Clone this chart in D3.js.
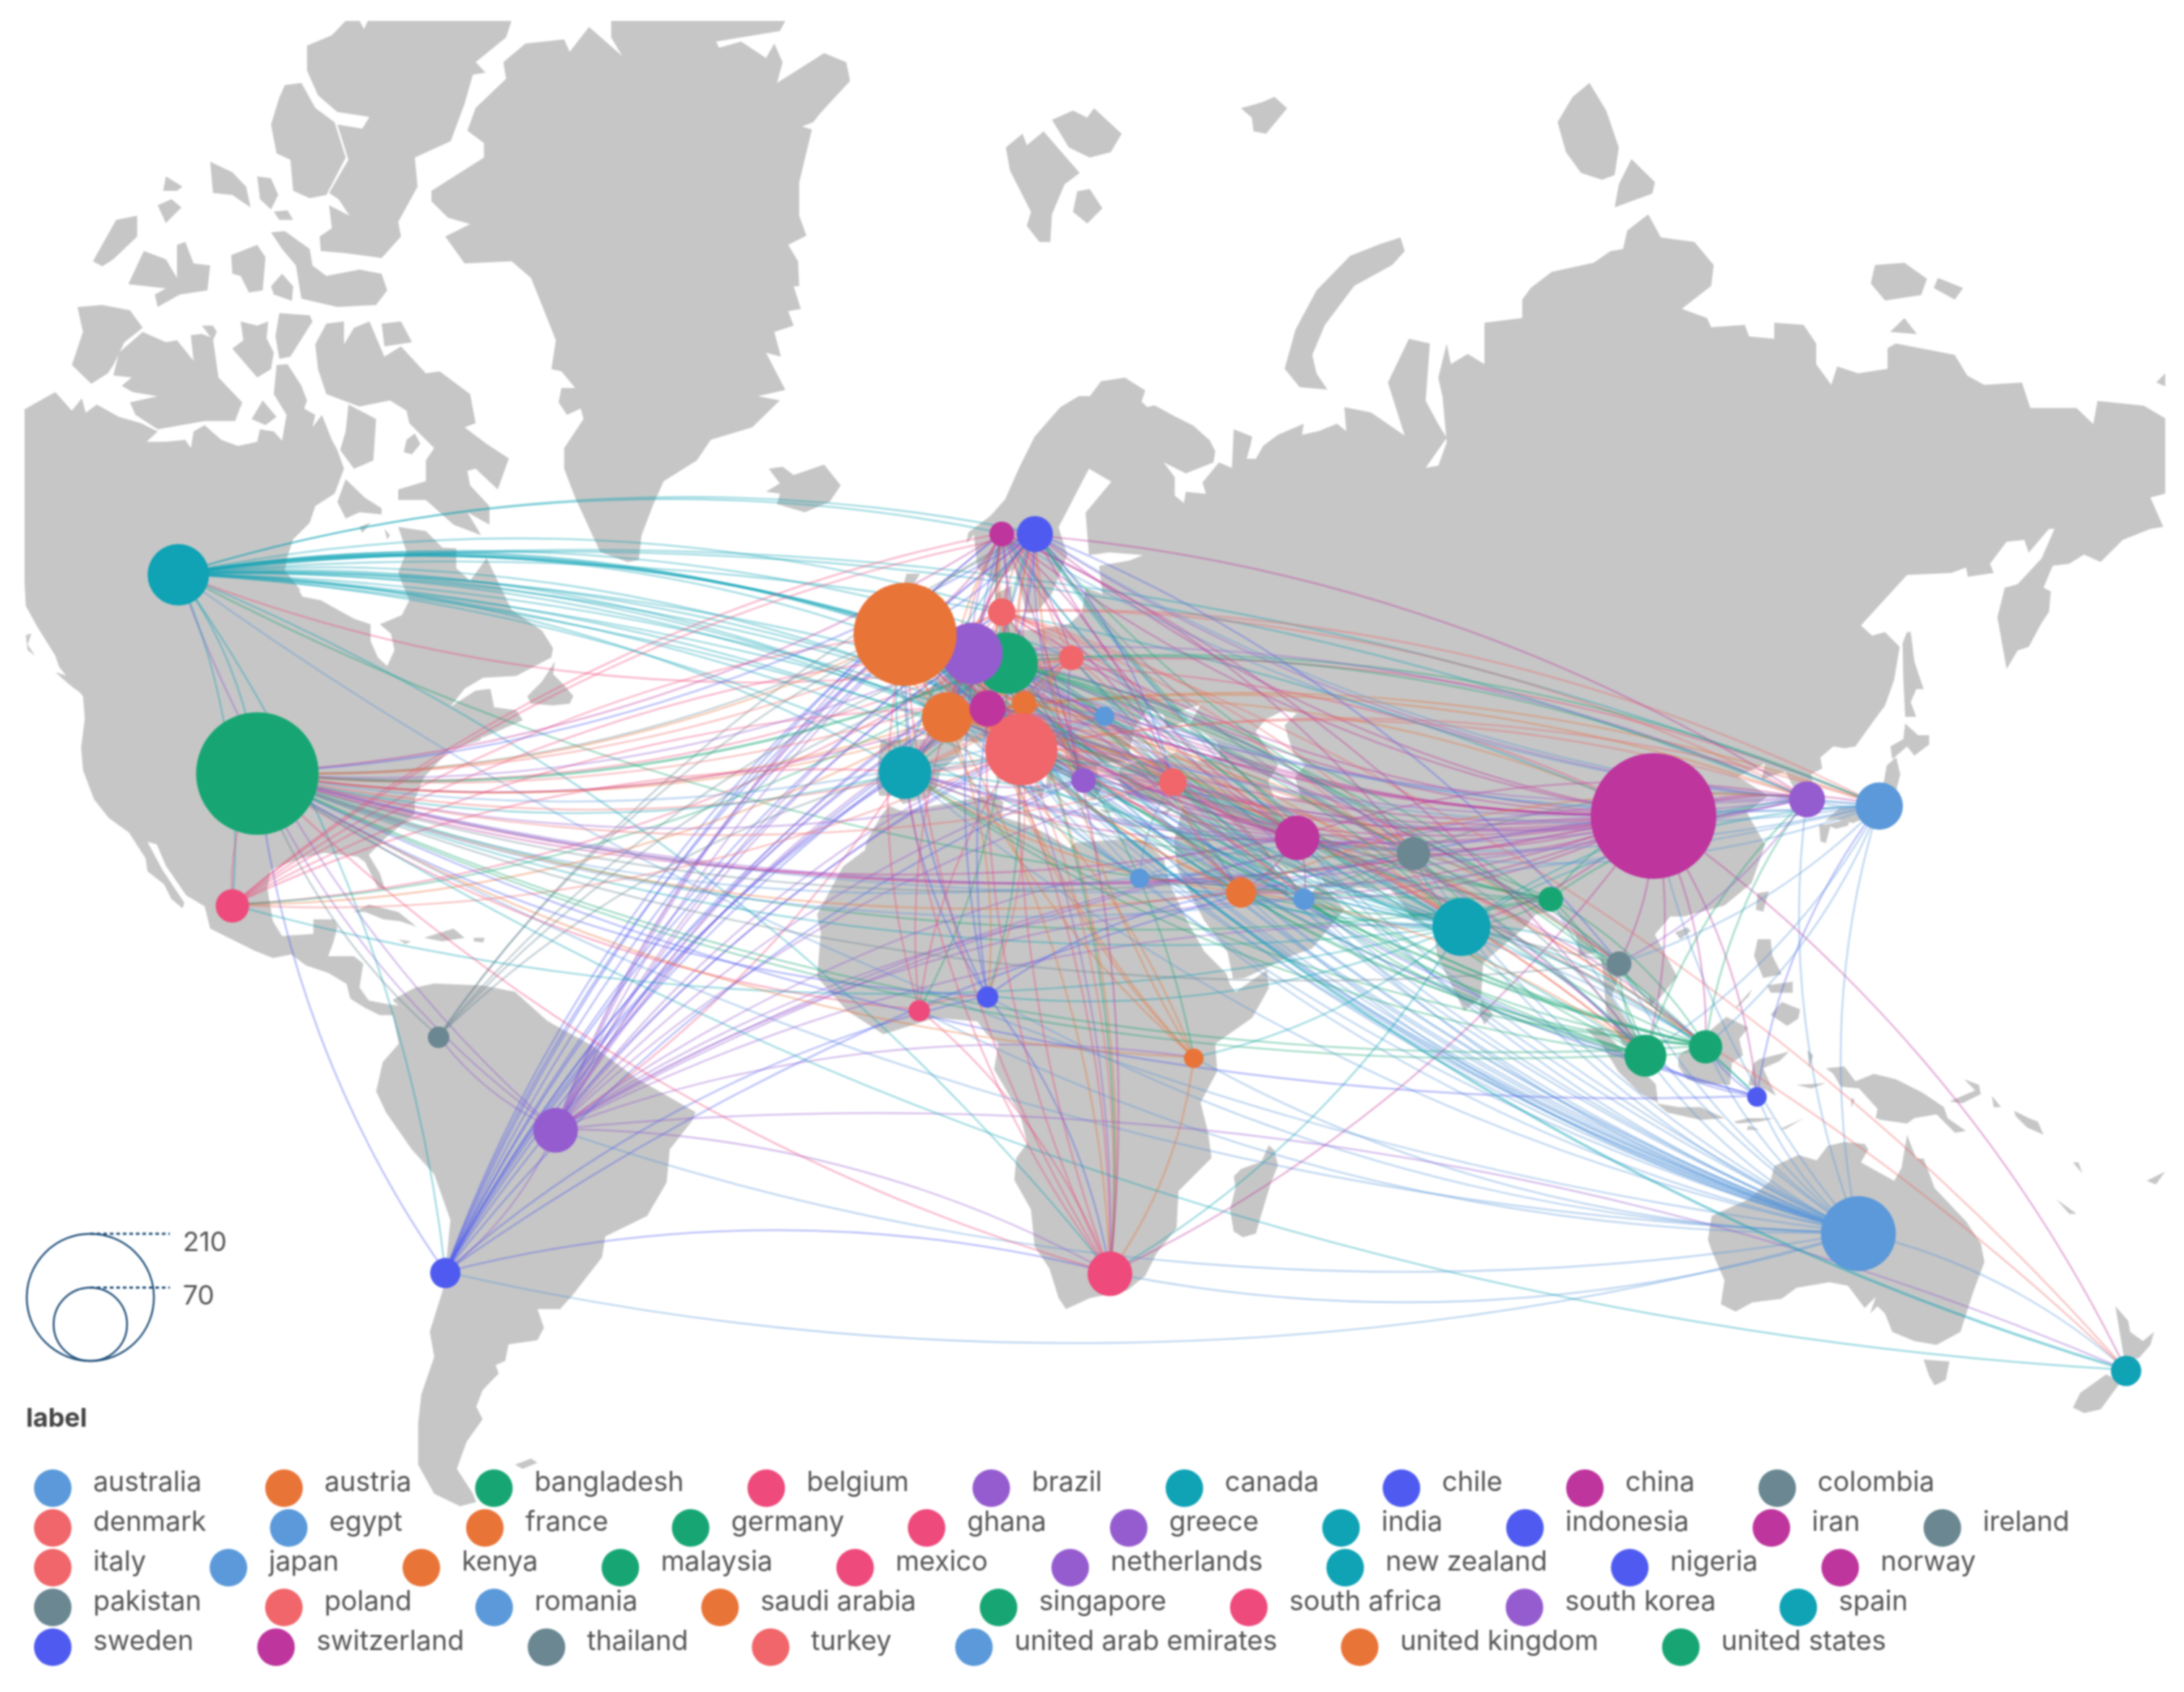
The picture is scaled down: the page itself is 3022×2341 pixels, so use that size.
<!DOCTYPE html>
<html><head><meta charset="utf-8">
<script src="https://cdn.jsdelivr.net/npm/d3@7"></script>
<style>html,body{margin:0;padding:0;background:#fff}svg{display:block;filter:blur(0.9px)}text{font-family:Inter,"Noto Sans",sans-serif}</style>
</head><body><div id="chart"></div>
<script>
const countries=["australia","austria","bangladesh","belgium","brazil","canada","chile","china","colombia","denmark","egypt","france","germany","ghana","greece","india","indonesia","iran","ireland","italy","japan","kenya","malaysia","mexico","netherlands","new zealand","nigeria","norway","pakistan","poland","romania","saudi arabia","singapore","south africa","south korea","spain","sweden","switzerland","thailand","turkey","united arab emirates","united kingdom","united states"];
const lons=[135.8,12.4,90.3,3.5,-56.9,-112.7,-73.2,105.5,-74.2,9.1,29.5,1,9.9,-3.1,21.2,77.1,120.8,52.8,-8,12,138.9,37.5,113.2,-104.7,4.7,175.4,7,9.1,70,19.4,24.3,44.5,104.3,25.1,128.2,-5.2,14,7,100.4,34.4,53.8,-5.2,-101];
const lats=[-24,47.2,24,50.5,-9.4,58.6,-29.2,34.7,4.3,55.6,26.8,45.8,51.1,8.2,38.9,20.2,-4.5,32,53.4,42.4,35.9,1.2,2.9,23.1,52,-41,10.2,61.6,30,51.6,45.9,24.9,1.6,-29.3,36.7,39.8,61.6,46.7,15,38.7,24,53.7,39.7];
const counts=[73,8,8,9,26,49,12,205,6,10,5,33,49,6,8,44,5,26,6,68,29,5,14.5,14.5,49,12,6,8,14.5,8,5,12,23,26,17,36,17,17,8,10,6,138,195];
const paletteColors=["#5b99da","#e97438","#17a673","#ee4a7c","#955ccf","#0fa3b5","#4f5bf0","#be359d","#6a8792","#f0666a"];
const sizeTicks=[210,70];
const legendTitle="label";
const legendRows=[9,10,9,8,7];

const partnerLists=[
["australia","austria,bangladesh,belgium,brazil,canada,chile,china,denmark,egypt,france,germany,ghana,greece,india,indonesia,iran,ireland,italy,japan,kenya,malaysia,netherlands,new zealand,nigeria,norway,pakistan,poland,saudi arabia,singapore,south africa,south korea,spain,sweden,switzerland,thailand,turkey,united arab emirates,united kingdom,united states"],
["austria","belgium,china,denmark,france,germany,greece,india,iran,italy,netherlands,norway,poland,romania,south africa,spain,sweden,switzerland,turkey,united kingdom,united states"],
["bangladesh","canada,china,germany,india,iran,malaysia,pakistan,saudi arabia,singapore,south korea,sweden,united kingdom,united states"],
["belgium","brazil,canada,china,denmark,france,germany,greece,ireland,italy,japan,mexico,netherlands,norway,poland,south africa,spain,sweden,switzerland,turkey,united kingdom,united states"],
["brazil","canada,chile,china,colombia,denmark,france,germany,greece,india,iran,italy,kenya,netherlands,new zealand,norway,romania,saudi arabia,south africa,south korea,spain,sweden,switzerland,turkey,united arab emirates,united kingdom,united states"],
["canada","chile,china,denmark,egypt,france,germany,greece,india,iran,ireland,italy,japan,malaysia,mexico,netherlands,norway,pakistan,poland,saudi arabia,singapore,south africa,south korea,spain,sweden,switzerland,turkey,united arab emirates,united kingdom,united states"],
["chile","china,denmark,france,germany,greece,ireland,italy,netherlands,nigeria,norway,poland,south africa,spain,sweden,switzerland,united kingdom,united states"],
["china","denmark,egypt,france,germany,greece,india,indonesia,iran,italy,japan,malaysia,netherlands,new zealand,norway,pakistan,poland,saudi arabia,singapore,south africa,south korea,spain,sweden,switzerland,thailand,turkey,united arab emirates,united kingdom,united states"],
["colombia","germany,netherlands,spain,sweden,united kingdom,united states"],
["denmark","france,germany,greece,india,iran,italy,japan,netherlands,new zealand,norway,pakistan,poland,south korea,spain,sweden,switzerland,turkey,united kingdom,united states"],
["egypt","germany,india,italy,malaysia,pakistan,saudi arabia,turkey,united arab emirates,united kingdom,united states"],
["france","germany,greece,india,iran,ireland,italy,japan,kenya,malaysia,mexico,netherlands,nigeria,norway,pakistan,poland,romania,saudi arabia,singapore,south africa,south korea,spain,sweden,switzerland,thailand,turkey,united arab emirates,united kingdom,united states"],
["germany","ghana,greece,india,indonesia,iran,italy,japan,kenya,malaysia,mexico,netherlands,nigeria,norway,pakistan,poland,romania,saudi arabia,singapore,south africa,south korea,spain,sweden,switzerland,thailand,turkey,united arab emirates,united kingdom,united states"],
["ghana","italy,netherlands,nigeria,south africa,united kingdom,united states"],
["greece","india,italy,netherlands,norway,poland,saudi arabia,spain,sweden,switzerland,turkey,united arab emirates,united kingdom,united states"],
["india","indonesia,iran,italy,japan,kenya,malaysia,mexico,netherlands,nigeria,norway,pakistan,poland,saudi arabia,singapore,south africa,south korea,spain,sweden,switzerland,thailand,turkey,united arab emirates,united kingdom,united states"],
["indonesia","japan,malaysia,netherlands,singapore,united kingdom,united states"],
["iran","italy,malaysia,netherlands,norway,pakistan,saudi arabia,singapore,south korea,spain,sweden,switzerland,turkey,united arab emirates,united kingdom,united states"],
["ireland","italy,netherlands,spain,sweden,united kingdom,united states"],
["italy","japan,malaysia,mexico,netherlands,new zealand,nigeria,norway,pakistan,poland,romania,saudi arabia,singapore,south africa,south korea,spain,sweden,switzerland,turkey,united arab emirates,united kingdom,united states"],
["japan","malaysia,netherlands,norway,pakistan,singapore,south korea,spain,sweden,switzerland,thailand,united kingdom,united states"],
["kenya","netherlands,south africa,sweden,switzerland,united kingdom,united states"],
["malaysia","netherlands,pakistan,saudi arabia,singapore,south korea,spain,thailand,turkey,united arab emirates,united kingdom,united states"],
["mexico","netherlands,norway,spain,sweden,switzerland,united kingdom,united states"],
["netherlands","norway,pakistan,poland,saudi arabia,singapore,south africa,south korea,spain,sweden,switzerland,turkey,united arab emirates,united kingdom,united states"],
["new zealand","united kingdom,united states"],
["nigeria","norway,saudi arabia,south africa,spain,sweden,united kingdom,united states"],
["norway","pakistan,poland,singapore,south africa,south korea,spain,sweden,switzerland,turkey,united kingdom,united states"],
["pakistan","saudi arabia,singapore,south korea,spain,sweden,thailand,turkey,united arab emirates,united kingdom,united states"],
["poland","spain,sweden,switzerland,turkey,united kingdom,united states"],
["romania","spain,turkey,united kingdom,united states"],
["saudi arabia","singapore,south korea,spain,switzerland,turkey,united arab emirates,united kingdom,united states"],
["singapore","south korea,spain,sweden,switzerland,thailand,turkey,united arab emirates,united kingdom,united states"],
["south africa","spain,sweden,switzerland,united kingdom,united states"],
["south korea","spain,sweden,switzerland,thailand,turkey,united kingdom,united states"],
["spain","sweden,switzerland,turkey,united arab emirates,united kingdom,united states"],
["sweden","switzerland,thailand,turkey,united kingdom,united states"],
["switzerland","thailand,turkey,united kingdom,united states"],
["thailand","united kingdom,united states"],
["turkey","united arab emirates,united kingdom,united states"],
["united arab emirates","united kingdom,united states"],
["united kingdom","united states"]];
const strongLinks=["canada|united kingdom","canada|germany","canada|netherlands","new zealand|united kingdom","australia|united kingdom","australia|germany","china|united states","china|united kingdom","germany|united kingdom","germany|united states","italy|united kingdom","netherlands|united kingdom","brazil|united kingdom","malaysia|united kingdom","iran|united kingdom"];

const frames={n:[0,0,1200,900],r:[1200,0,1822,1000],s:[400,1200,1400,900],a:[0,800,800,800],b:[1100,1000,800,800],c:[1700,800,900,900],d:[2200,400,800,800],e:[1100,400,800,800],f:[2200,1200,800,800]};
const mainlandNA=[["n",[[40,990],[80,960],[100,945],[130,990],[148,960],[155,995],[175,975],[215,1005],[255,1020],[285,1040],[265,1065],[300,1065],[335,1060],[345,1080],[350,1040],[370,1025],[400,1060],[430,1075],[465,1065],[470,1035],[495,1040],[510,1062],[518,1000],[495,950],[500,880],[520,878],[545,930],[555,965],[550,985],[570,1000],[565,1030],[582,1000],[600,1060],[610,1085],[622,1130],[605,1190],[570,1220],[560,1260],[530,1300],[520,1340],[515,1375],[545,1425]]],
["a",[[810,30],[820,50],[870,60],[960,110],[1005,125],[1005,170],[1025,215],[1050,238],[1070,195],[1060,150],[1030,125],[1090,100],[1110,60],[1085,0]]],
["n",[[720,1380],[735,1330],[720,1270],[770,1280],[800,1320],[825,1322],[825,1370],[850,1400],[880,1345],[925,1470],[980,1520]]],
["a",[[1500,190],[1495,215],[1400,265],[1310,270],[1260,300],[1220,350],[1290,305],[1330,300],[1340,350],[1400,358],[1418,385],[1310,432],[1305,412],[1350,385],[1300,440],[1220,465],[1150,540],[1125,600],[1125,640],[1050,700],[1000,750],[1030,800],[1045,845],[1025,840],[990,770],[970,755],[880,745],[815,760],[735,790],[725,840],[740,930],[765,970],[850,965],[850,925],[905,925],[915,945],[905,985],[890,1025],[960,1025],[985,1045],[975,1110],[1000,1145],[1050,1155],[1090,1160],[1090,1190],[1060,1185],[1030,1185],[990,1165],[950,1140],[940,1100],[890,1070],[830,1050],[790,1020],[740,1030],[690,1010],[620,975],[570,950],[555,890],[505,860],[450,780],[425,722],[400,715],[440,790],[500,880],[495,895],[465,870],[445,830],[400,795],[395,760],[350,690],[295,650],[255,600],[225,520],[220,460],[230,380],[225,320],[160,240],[150,210],[100,130],[70,75],[66,0]]]];
const americaIslands=[
["a",[[1505,225],[1470,280],[1430,320],[1440,340],[1500,345],[1545,340],[1555,320],[1530,290],[1500,260]]],
["a",[[150,255],[200,270],[240,300],[260,345],[230,320],[190,290]]],["a",[[70,155],[85,150],[75,180],[95,210],[75,195]]],
["a",[[960,905],[1000,885],[1080,905],[1130,945],[1085,930],[1040,925],[990,905]]],["a",[[1150,975],[1230,950],[1260,975],[1200,985]]],["a",[[1080,980],[1115,985],[1100,992]]],["a",[[1285,975],[1315,975],[1310,988],[1285,985]]],
["n",[[625,50],[650,50],[658,70],[665,50],[925,50],[915,90],[860,150],[878,175],[855,180],[840,250],[815,340],[750,380],[755,450],[720,535],[725,570],[690,622],[625,610],[580,605],[578,570],[600,550],[595,495],[632,520],[612,480],[595,465],[630,385],[610,300],[655,310],[668,282],[610,270],[575,230],[555,170],[555,110],[600,85]]],
["n",[[515,205],[545,200],[570,260],[605,295],[625,380],[590,470],[560,478],[530,460],[525,385],[500,370],[490,300],[505,235]]],
["n",[[380,390],[420,415],[445,450],[453,500],[420,470],[385,465]]],["n",[[465,425],[490,430],[503,470],[490,505],[470,480]]],["n",[[300,425],[330,450],[320,460],[295,460]]],["n",[[285,495],[310,480],[328,500],[300,538]]],
["n",[[210,530],[248,520],[248,570],[205,625],[185,642],[168,630]]],
["n",[[260,605],[300,625],[320,670],[320,590],[335,583],[350,635],[380,640],[375,700],[325,710],[285,740],[280,710],[300,695],[232,685]]],
["n",[[495,510],[520,507],[530,530],[505,530]]],["n",[[418,615],[465,590],[480,620],[475,700],[450,705],[435,665],[420,660]]],["n",[[510,660],[530,690],[528,725],[495,710],[490,690]]],
["n",[[490,560],[515,557],[560,600],[565,640],[590,665],[650,650],[690,660],[700,700],[680,735],[610,740],[545,720],[535,640],[510,600]]],
["n",[[140,740],[185,735],[235,748],[258,790],[225,825],[205,880],[195,900],[165,925],[130,880],[150,800]]],
["n",[[258,800],[300,825],[320,820],[350,870],[345,808],[365,805],[385,815],[395,910],[438,970],[425,1015],[370,1015],[285,1035],[245,1000],[235,970],[285,955],[240,945],[220,930],[238,910],[205,905],[215,850]]],
["n",[[365,785],[385,785],[392,800],[385,820]]],["n",[[435,775],[465,785],[485,775],[482,815],[495,850],[490,890],[465,910],[420,840],[440,820]]],["n",[[505,755],[560,760],[565,775],[525,860],[505,865],[498,810]]],
["n",[[570,830],[590,780],[622,775],[622,830],[640,790],[668,775],[695,860],[725,835],[770,900],[795,895],[850,950],[860,1020],[840,1030],[880,1070],[920,1105],[900,1180],[860,1130],[845,1135],[850,1170],[885,1220],[885,1265],[845,1235],[870,1290],[820,1265],[770,1205],[720,1205],[720,1180],[770,1160],[770,1110],[785,1080],[740,1020],[735,990],[705,965],[650,980],[590,950],[575,890]]],
["n",[[690,780],[725,775],[745,825],[695,835]]],["n",[[455,1010],[475,965],[500,1005],[480,1025]]],["n",[[630,975],[680,1010],[675,1110],[640,1130],[615,1085],[625,1040]]],["n",[[625,1155],[660,1200],[690,1225],[690,1240],[650,1235],[625,1250],[610,1210]]],["n",[[735,1060],[750,1045],[760,1070],[745,1095],[730,1090]]],["n",[[650,1270],[670,1260],[655,1285]]],["n",[[695,1275],[705,1290],[700,1300]]],
["n",[[1105,50],[1420,50],[1410,75],[1295,100],[1300,115],[1340,100],[1385,140],[1400,105],[1415,150],[1405,200],[1490,128],[1530,150],[1537,195],[1485,270],[1470,295],[1450,305],[1468,312],[1445,440],[1445,520],[1458,568],[1425,590],[1443,630],[1445,690],[1435,690],[1448,745],[1425,750],[1435,785],[1400,800],[1412,860],[1385,850],[1420,940],[1370,955],[1410,965],[1360,1030],[1285,1060],[1260,1110],[1200,1160],[1180,1220],[1160,1290],[1155,1350],[1135,1355],[1085,1330],[1040,1200],[1020,1130],[1020,1080],[1055,1010],[1050,985],[1025,1000],[1010,970],[1015,935],[1040,935],[1015,895],[997,890],[1005,820],[960,670],[925,630],[840,635],[805,570],[850,540],[810,525],[780,485],[780,460],[875,380],[875,345],[845,315],[860,260],[915,190],[910,150],[950,105],[1020,95],[1030,125],[1065,65],[1125,135],[1105,90]]],
["n",[[1390,1130],[1415,1125],[1435,1145],[1490,1120],[1520,1170],[1500,1210],[1455,1235],[1405,1215],[1410,1190],[1385,1185],[1410,1165]]],
["s",[[175,340],[160,320],[195,290],[225,280],[300,285],[350,300],[400,370],[470,430],[540,510],[630,590],[625,610],[590,680],[585,760],[555,840],[490,890],[485,940],[440,1030],[420,1065],[385,1065],[395,1110],[385,1140],[340,1150],[335,1190],[320,1200],[325,1220],[300,1260],[290,1300],[300,1330],[275,1385],[260,1450],[285,1510],[290,1530],[265,1540],[225,1510],[200,1440],[200,1340],[205,1270],[225,1180],[218,1120],[240,1010],[250,850],[225,740],[190,680],[150,590],[135,540],[145,470],[170,425],[160,350]]],
["s",[[350,1440],[375,1425],[385,1435],[362,1450]]]];
const africaOutline=[["b",[[255,225],[290,240],[430,215],[540,195],[565,215],[560,255],[640,280],[680,300],[745,340],[760,325],[835,320],[890,315],[950,320],[1000,370],[1020,445],[1065,540],[1110,620],[1170,680],[1180,710],[1195,730],[1280,670],[1285,720],[1240,800],[1140,870],[1145,945],[1100,1030],[1120,1110],[1130,1180],[1040,1270],[1035,1370],[980,1440],[950,1500],[900,1540],[800,1560],[735,1590],[715,1560],[690,1480],[650,1420],[640,1320],[595,1240],[600,1180],[630,1140],[610,1060],[540,940],[552,870],[520,845],[495,810],[380,800],[240,845],[140,780],[60,690],[70,570],[60,520],[130,390],[190,345],[195,320],[235,250]]]];
const africaIslands=[["b",[[1285,1145],[1300,1160],[1310,1200],[1290,1250],[1260,1350],[1250,1385],[1215,1395],[1190,1380],[1180,1320],[1195,1260],[1190,1230],[1210,1210],[1265,1190]]]];
const westEurasiaGeo=[[-9,37],[-9.5,38.7],[-8.8,43.3],[-2,43.4],[-1.2,46],[-4.5,48],[-1.5,48.7],[1.5,50.2],[3.5,51.4],[6,53.4],[8.8,53.8],[8.2,57],[10.6,57.7],[10.3,55],[11.5,54],[14,54],[19,54.5],[21,55.5],[21.5,57.5],[24,57],[23.5,59.2],[28,59.6],[30,60],[25,60.2],[22,60],[21.5,63],[25.3,65],[22,65.8],[17.5,62],[18.8,60],[16.5,57],[14.3,55.5],[12.8,55.4],[11,59],[8,58],[5.5,59],[5,61.5]];
const northEurasia=[["e",[[465,690],[470,660],[530,615],[570,570],[610,480],[650,400],[720,320],[770,290],[800,290],[830,250],[895,240],[950,275],[940,305],[955,320],[975,315],[1030,345],[1080,370],[1125,410],[1140,440],[1135,470],[1060,500],[1000,470],[1030,510],[1030,560],[1055,580],[1060,550],[1115,555],[1105,525],[1150,470],[1185,485],[1190,380],[1240,400],[1235,425],[1225,460],[1250,460],[1270,425],[1310,395],[1380,365],[1375,395],[1420,385],[1470,365],[1495,385],[1490,320]]],
["r",[[600,895],[640,945],[620,830],[645,735],[670,745],[665,870],[680,920],[690,950],[665,1015],[680,1010],[690,960],[685,860],[680,820],[690,745],[695,790],[715,768],[735,790],[735,700],[780,690],[780,650],[790,625],[815,590],[865,570],[885,545],[900,540],[905,500],[930,465],[945,515],[985,525],[1008,575],[1005,620],[970,670],[1000,690],[1005,710],[1045,705],[1050,730],[1080,735],[1080,700],[1115,705],[1130,745],[1130,790],[1148,835],[1155,795],[1180,810],[1215,800],[1215,755],[1225,745],[1295,770],[1310,815],[1330,835],[1375,830],[1385,885],[1440,885],[1460,920],[1465,870],[1520,880],[1548,910],[1548,1070]]],
["d",[[1520,565],[1555,645],[1520,650],[1445,680],[1385,740],[1340,720],[1300,745],[1255,750],[1230,810],[1250,820],[1245,875],[1225,905],[1190,970],[1160,980],[1130,1030],[1105,890],[1125,810],[1160,800],[1225,730],[1260,650],[1245,650],[1190,715],[1178,680],[1130,685],[1085,745],[1095,770],[1025,780],[1020,755],[980,770],[860,775],[735,912],[765,940],[800,930],[840,970],[825,1060],[800,1130],[770,1170],[720,1240],[690,1245],[660,1240],[625,1270],[630,1300],[600,1315]]]];
const southEurasiaGeo=[[129.4,37],[129,35.2],[126.5,34.5],[126.5,37.5],[125,39.8],[121.5,38.9],[122,40.7],[118,39.2],[122.5,37],[119.3,35],[122,31],[120,26],[116,23],[110,21.5],[108,21.5],[105.7,19],[109,13],[106.5,10],[105,8.7],[104.8,10.2],[100.5,13.5],[99.3,10],[103.3,4],[103.7,1.4],[101,3],[98.5,8],[98,14],[97.5,16.5],[94.5,16],[94,19],[91,22.5],[88,21.7],[86.5,20],[80.3,15],[80,10],[77.5,8],[73.5,16],[72.8,21],[70,21],[68,23.7],[66.5,25.2],[57,25.5],[56.3,27],[51,28],[48.5,30],[50,26.7],[51.5,25.5],[51.3,24],[54,24],[56.3,26],[59.8,22.5],[55,17],[52,16],[45,12.8],[43.3,12.7],[42.5,16.5],[39,21],[35,28],[34.6,31.5],[36,36],[32,36],[28,36.7],[26.5,38.5],[26.5,40.2],[29.5,41],[31.5,41],[35,42],[38,41],[41.5,41.5],[41,43],[37,45],[38.5,47],[35,46.2],[36.5,45.3],[33.5,44.5],[33,46],[30.7,46.5],[28.7,44.5],[28,42],[29,41.2],[26.2,40.8],[24,40.8],[23,40.3],[24,38],[22.8,36.5],[21.5,37],[19.5,40.5],[19,42],[15,44.3],[13.7,45.6],[12.3,45.3],[12.5,44],[16,41.8],[18.3,40],[16.5,39.8],[16.5,38],[15.7,38],[15.8,40],[12.5,41.3],[10.3,43],[8.8,44.4],[6,43],[3,43.2],[3,41.8],[0,39.8],[-0.5,38],[-2,36.8],[-5.5,36],[-6.5,37]];
const geoIslands=[[[-5.5,50],[1.3,51.2],[1.7,52.7],[0,53.5],[-1.5,55],[-2,57.5],[-4,57.7],[-3,58.6],[-5,58.6],[-6,56.5],[-3.2,54.9],[-3,53.4],[-4.5,53],[-5,51.7],[-3,51.4]],[[-6,52.2],[-6,53.8],[-6,55.2],[-8,55.2],[-10,54],[-10,52],[-8,51.5]],[[12.5,38],[15.6,38.2],[15,36.7]],[[8.3,39],[8.3,41],[9.7,41],[9.6,39.2]],[[8.6,42.5],[9.5,43],[9.4,41.5]],[[23.5,35.4],[26.3,35.2],[24.5,34.9]],[[32.4,35],[34.5,35.6],[33.5,34.7]],[[108.7,19.3],[110.5,20],[111,19.5],[109.5,18.3]],[[80,9.7],[81.8,7.5],[80.5,6],[79.8,7.5]],[[131,33.5],[134.5,34.3],[134.3,33.4],[132.5,33]],[[130,33.5],[131.7,33.5],[131,31.2],[130.2,31.4]],[[133,35.5],[136,35.7],[137,37.3],[139.5,38.3],[140,40.5],[141.4,41.4],[142,39.5],[140.9,36],[139,35],[136.8,34.3],[135,33.7],[132.5,34.2],[130.9,34]]];
const asiaIslands=[
["r",[[165,320],[185,290],[190,315],[210,285],[253,375],[235,400],[220,465],[218,525],[205,525],[190,490],[195,460],[170,370]]],["r",[[220,260],[245,240],[262,255],[270,235],[303,290],[290,330],[265,342],[240,320]]],["r",[[250,415],[265,410],[280,452],[262,485],[245,460]]],["r",[[445,235],[470,222],[485,210],[500,235],[475,290],[460,285],[458,255]]],
["r",[[635,515],[640,545],[625,575],[580,620],[545,705],[530,770],[535,810],[548,845],[515,840],[497,800],[510,715],[535,630],[575,555],[610,530]]],
["r",[[860,180],[880,240],[895,320],[890,380],[875,390],[850,375],[832,330],[822,265],[840,210]]],["r",[[910,345],[938,395],[935,420],[890,450],[895,400]]],["r",[[1200,575],[1235,570],[1262,605],[1255,640],[1212,652],[1195,615]]],["r",[[1275,603],[1305,625],[1295,650],[1270,625]]],["r",[[1235,690],[1250,725],[1218,720]]],["r",[[1548,805],[1548,840],[1535,830]]],
["d",[[860,930],[870,930],[880,1010],[905,1085],[885,1085],[870,1120],[885,1160],[855,1160],[850,1060],[848,960]]],["d",[[855,1178],[890,1210],[920,1210],[920,1235],[880,1265],[860,1240],[820,1275],[815,1240],[850,1220]]],
["f",[[330,945],[430,900],[490,850],[500,810],[565,780],[615,795],[645,755],[690,745],[745,750],[755,765],[735,800],[825,850],[845,815],[860,725],[885,790],[905,790],[935,870],[1020,960],[1060,1020],[1070,1070],[1040,1150],[1005,1260],[940,1295],[880,1285],[820,1260],[800,1210],[780,1190],[760,1210],[775,1165],[745,1195],[700,1135],[650,1125],[560,1140],[520,1170],[440,1180],[395,1205],[355,1185],[365,1120],[330,1040],[320,1010]]],
["f",[[905,1335],[975,1340],[965,1390],[935,1405],[920,1380]]],["f",[[1425,1190],[1460,1230],[1465,1260],[1500,1285],[1530,1260],[1520,1295],[1490,1330],[1450,1340]]],["f",[[1400,1375],[1440,1395],[1385,1470],[1340,1480],[1310,1465],[1330,1425]]],
["f",[[640,545],[690,540],[720,580],[770,560],[830,575],[900,610],[960,650],[970,680],[1020,715],[990,720],[940,670],[880,680],[860,695],[790,685],[775,680],[780,655],[730,600],[680,595],[660,560]]],
["f",[[1015,575],[1055,590],[1060,615],[1010,640],[975,635],[1010,620],[1045,605]]],["f",[[1090,620],[1115,650],[1095,650]]],["f",[[1150,660],[1190,680],[1215,690],[1230,725],[1185,705],[1155,675]]],["f",[[1310,800],[1325,800],[1335,830]]],["f",[[1510,850],[1560,825],[1535,860]]],["f",[[1265,900],[1320,940],[1300,940]]],
["f",[[460,520],[540,500],[515,525],[470,545],[490,590],[505,620],[470,600],[430,590],[445,530]]],["f",[[515,710],[580,680],[530,710]]],["f",[[590,495],[605,510],[595,545]]],["f",[[560,590],[640,585],[600,600]]],["f",[[390,690],[430,680],[500,680],[460,690],[400,695]]],["f",[[430,700],[460,712],[425,712]]],["f",[[710,625],[718,630],[708,652]]],
["f",[[180,640],[240,650],[300,650],[365,680],[300,685],[210,665]]],["f",[[240,510],[270,490],[370,405],[430,435],[405,465],[415,510],[385,530],[380,590],[300,585],[265,575],[240,540]]],
["c",[[860,1085],[900,1085],[950,1140],[1030,1220],[1035,1265],[990,1240],[940,1190],[900,1125]]],
["f",[[455,195],[490,195],[495,240],[520,290],[470,300],[445,240]]],["f",[[520,365],[570,385],[565,410],[535,430],[490,400]]],["f",[[480,320],[550,310],[550,340],[490,340]]],["f",[[395,380],[440,330],[430,350],[400,380]]],["f",[[455,70],[485,65],[470,120],[450,115]]]];
const inlandWater=[["c",[[130,320],[165,325],[135,355],[155,420],[185,450],[160,480],[175,530],[110,530],[95,490],[120,450],[65,370],[90,340]]]];

const W=3022,H=2341;
const projection=d3.geoMercator().scale(536).translate([1301,1474]);
const svg=d3.select("#chart").append("svg").attr("width",W).attr("height",H).attr("viewBox",[0,0,W,H]);
const pt=c=>projection(c);
const toPx=([f,pts])=>{const [x0,y0,w,h]=frames[f];const sx=d3.scaleLinear().domain([0,1568]).range([x0,x0+w]),sy=d3.scaleLinear().domain([0,1568]).range([y0,y0+h]);return pts.map(([u,v])=>[sx(u),sy(v)]);};
const ring=d3.line();
svg.append("clipPath").attr("id","mapclip").append("rect").attr("x",34).attr("y",29).attr("width",2962).attr("height",H);
const gMap=svg.append("g").attr("clip-path","url(#mapclip)");
const eurasiaRing=[...westEurasiaGeo.map(pt),...northEurasia.flatMap(toPx),...southEurasiaGeo.map(pt)];
const land=[mainlandNA.flatMap(toPx),eurasiaRing,...africaOutline.map(toPx),...africaIslands.map(toPx),...americaIslands.map(toPx),...asiaIslands.map(toPx),...geoIslands.map(r=>r.map(pt))];
gMap.selectAll("path.land").data(land).join("path").attr("class","land").attr("d",d=>ring(d)+"Z").attr("fill","#c6c6c6");
gMap.selectAll("path.water").data(inlandWater.map(toPx)).join("path").attr("class","water").attr("d",d=>ring(d)+"Z").attr("fill","#fff");

const color=d3.scaleOrdinal().domain(countries).range(paletteColors);
const rScale=d3.scaleSqrt().domain([0,210]).range([0,88]);
const byName=new Map(countries.map((c,i)=>[c,{name:c,lon:lons[i],lat:lats[i],count:counts[i]}]));
const strongSet=new Set(strongLinks);
const links=partnerLists.flatMap(([s,t])=>t.split(",").map(x=>({source:byName.get(s),target:byName.get(x),strong:strongSet.has(s+"|"+x)})));
function arc(l){const [x0,y0]=pt([l.source.lon,l.source.lat]),[x1,y1]=pt([l.target.lon,l.target.lat]);const r=2*Math.hypot(x1-x0,y1-y0);return `M${x0},${y0}A${r},${r} 0 0 1 ${x1},${y1}`;}
svg.append("g").selectAll("path").data(links).join("path").attr("d",arc).attr("fill","none").attr("stroke",d=>color(d.source.name)).attr("stroke-width",d=>d.strong?3.6:2.6).attr("stroke-opacity",d=>d.strong?.48:.38);
svg.append("g").selectAll("circle").data([...byName.values()]).join("circle")
 .attr("cx",d=>pt([d.lon,d.lat])[0]).attr("cy",d=>pt([d.lon,d.lat])[1]+1.5).attr("r",d=>rScale(d.count)).attr("fill",d=>color(d.name));

// size legend
const gSize=svg.append("g").attr("transform","translate(125,1883)");
sizeTicks.forEach(v=>{const r=rScale(v);
 gSize.append("circle").attr("cy",-r).attr("r",r).attr("fill","none").attr("stroke","#1f4e79").attr("stroke-width",2.5);
 gSize.append("line").attr("x1",0).attr("x2",110).attr("y1",-2*r).attr("y2",-2*r).attr("stroke","#1f4e79").attr("stroke-width",3).attr("stroke-dasharray","5 4");
 gSize.append("text").attr("x",128).attr("y",-2*r+24).attr("font-size",37).attr("fill","#555").text(v);
});
// colour legend
svg.append("text").attr("x",36).attr("y",1974).attr("font-size",36).attr("font-weight",700).attr("fill","#444").text(legendTitle);
const gLeg=svg.append("g");
let idx=0;
legendRows.forEach((n,row)=>{let x=73;const cy=2059+row*55;
 for(let k=0;k<n;k++,idx++){const name=countries[idx];
  gLeg.append("circle").attr("cx",x).attr("cy",cy).attr("r",26).attr("fill",color(name));
  const t=gLeg.append("text").attr("x",x+56).attr("y",cy+4).attr("font-size",37.6).attr("fill","#555").text(name);
  x+=56+t.node().getComputedTextLength()+114;
 }
});
</script></body></html>
